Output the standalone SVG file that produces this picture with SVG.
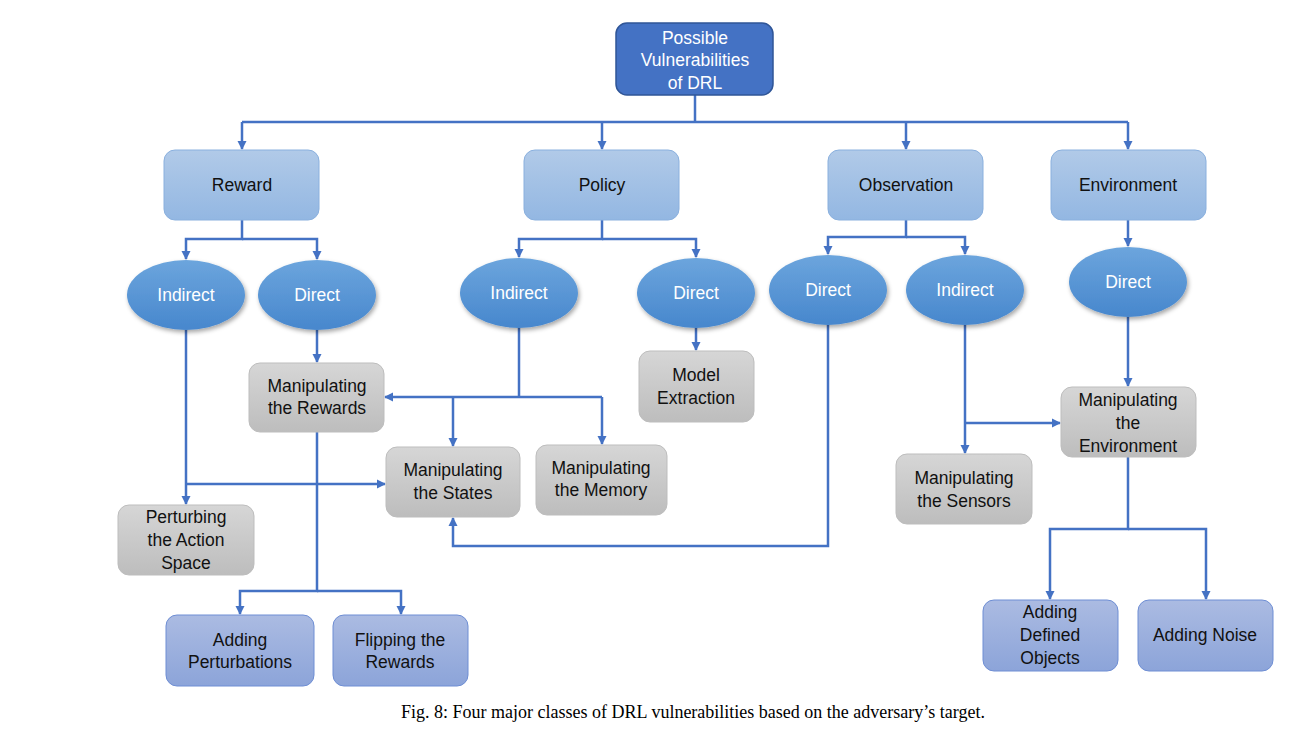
<svg xmlns="http://www.w3.org/2000/svg" width="1315" height="736" viewBox="0 0 1315 736">
<style>
text{font-family:"Liberation Sans",Arial,sans-serif;font-size:17.5px;text-anchor:middle;dominant-baseline:central}
.dark{fill:#111}
.white{fill:#fff}
.l1{fill:url(#gL1);stroke:#8AB0DE;stroke-width:1}
.gray{fill:url(#gGray);stroke:#BDBDBD;stroke-width:1}
.leaf{fill:url(#gLeaf);stroke:#6E8ED4;stroke-width:1}
.ell{fill:url(#gEll);filter:url(#sh)}
.conn{fill:none;stroke:#4472C4;stroke-width:2.5}
.cap{font-family:"Liberation Serif","Times New Roman",serif;font-size:18px;fill:#000}
</style>
<defs>
<linearGradient id="gL1" x1="0" y1="0" x2="0" y2="1"><stop offset="0" stop-color="#B1CAE8"/><stop offset="1" stop-color="#93B7E2"/></linearGradient>
<linearGradient id="gGray" x1="0" y1="0" x2="0" y2="1"><stop offset="0" stop-color="#D6D6D6"/><stop offset="1" stop-color="#BDBDBD"/></linearGradient>
<linearGradient id="gLeaf" x1="0" y1="0" x2="0" y2="1"><stop offset="0" stop-color="#ABBBE2"/><stop offset="1" stop-color="#8CA4D9"/></linearGradient>
<linearGradient id="gEll" x1="0" y1="0" x2="0" y2="1"><stop offset="0" stop-color="#6CA5DD"/><stop offset="1" stop-color="#4787CD"/></linearGradient>
<filter id="sh" x="-20%" y="-20%" width="150%" height="150%"><feDropShadow dx="1.5" dy="2.5" stdDeviation="2" flood-color="#000" flood-opacity="0.35"/></filter>
<marker id="ah" markerWidth="10" markerHeight="10" refX="8" refY="5" orient="auto" markerUnits="userSpaceOnUse"><path d="M0,0.5 L9,5 L0,9.5 Z" fill="#4472C4"/></marker>
</defs>

<g id="connectors">
<path class="conn" d="M695,95 V122"/>
<path class="conn" d="M242,122 H1128"/>
<path class="conn" d="M242,122 V149" marker-end="url(#ah)"/>
<path class="conn" d="M602,122 V149" marker-end="url(#ah)"/>
<path class="conn" d="M906,122 V149" marker-end="url(#ah)"/>
<path class="conn" d="M1128,122 V149" marker-end="url(#ah)"/>
<path class="conn" d="M242,220 V239 H186 V259" marker-end="url(#ah)"/>
<path class="conn" d="M242,239 H317 V259" marker-end="url(#ah)"/>
<path class="conn" d="M602,220 V239 H519 V257" marker-end="url(#ah)"/>
<path class="conn" d="M602,239 H696 V257" marker-end="url(#ah)"/>
<path class="conn" d="M906,220 V237 H828 V254" marker-end="url(#ah)"/>
<path class="conn" d="M906,237 H965 V254" marker-end="url(#ah)"/>
<path class="conn" d="M1128,220 V246" marker-end="url(#ah)"/>
<path class="conn" d="M186,330 V504" marker-end="url(#ah)"/>
<path class="conn" d="M186,484 H385" marker-end="url(#ah)"/>
<path class="conn" d="M317,330 V362" marker-end="url(#ah)"/>
<path class="conn" d="M519,328 V397"/>
<path class="conn" d="M602,397 H385" marker-end="url(#ah)"/>
<path class="conn" d="M453,397 V446" marker-end="url(#ah)"/>
<path class="conn" d="M602,397 V444" marker-end="url(#ah)"/>
<path class="conn" d="M696,328 V350" marker-end="url(#ah)"/>
<path class="conn" d="M317,432 V591 H240 V614" marker-end="url(#ah)"/>
<path class="conn" d="M317,591 H401 V614" marker-end="url(#ah)"/>
<path class="conn" d="M828,325 V546 H453 V518" marker-end="url(#ah)"/>
<path class="conn" d="M965,325 V453" marker-end="url(#ah)"/>
<path class="conn" d="M965,423 H1060" marker-end="url(#ah)"/>
<path class="conn" d="M1128,317 V386" marker-end="url(#ah)"/>
<path class="conn" d="M1128,457 V529 H1050 V599" marker-end="url(#ah)"/>
<path class="conn" d="M1128,529 H1206 V599" marker-end="url(#ah)"/>
</g>

<g id="root">
<rect x="616" y="23" width="157" height="72" rx="11" fill="#4472C4" stroke="#2F5597" stroke-width="1.5"/>
<text class="white" x="695" y="38">Possible</text>
<text class="white" x="695" y="60">Vulnerabilities</text>
<text class="white" x="695" y="83">of DRL</text>
</g>

<g id="reward"><rect class="l1" x="164" y="150" width="155" height="70" rx="11"/><text class="dark" x="242" y="185">Reward</text></g>
<g id="policy"><rect class="l1" x="524" y="150" width="155" height="70" rx="11"/><text class="dark" x="602" y="185">Policy</text></g>
<g id="observation"><rect class="l1" x="828" y="150" width="155" height="70" rx="11"/><text class="dark" x="906" y="185">Observation</text></g>
<g id="environment"><rect class="l1" x="1051" y="150" width="155" height="70" rx="11"/><text class="dark" x="1128" y="185">Environment</text></g>

<g id="reward-indirect"><ellipse class="ell" cx="186" cy="295" rx="59" ry="35"/><text class="white" x="186" y="295">Indirect</text></g>
<g id="reward-direct"><ellipse class="ell" cx="317" cy="295" rx="59" ry="35"/><text class="white" x="317" y="295">Direct</text></g>
<g id="policy-indirect"><ellipse class="ell" cx="519" cy="293" rx="59" ry="35"/><text class="white" x="519" y="293">Indirect</text></g>
<g id="policy-direct"><ellipse class="ell" cx="696" cy="293" rx="59" ry="35"/><text class="white" x="696" y="293">Direct</text></g>
<g id="observation-direct"><ellipse class="ell" cx="828" cy="290" rx="59" ry="35"/><text class="white" x="828" y="290">Direct</text></g>
<g id="observation-indirect"><ellipse class="ell" cx="965" cy="290" rx="59" ry="35"/><text class="white" x="965" y="290">Indirect</text></g>
<g id="environment-direct"><ellipse class="ell" cx="1128" cy="282" rx="59" ry="35"/><text class="white" x="1128" y="282">Direct</text></g>

<g id="manip-rewards"><rect class="gray" x="249" y="363" width="135" height="69" rx="11"/><text class="dark" x="317" y="386">Manipulating</text><text class="dark" x="317" y="408">the Rewards</text></g>
<g id="model-extraction"><rect class="gray" x="639" y="351" width="115" height="71" rx="11"/><text class="dark" x="696" y="375">Model</text><text class="dark" x="696" y="398">Extraction</text></g>
<g id="manip-states"><rect class="gray" x="386" y="447" width="134" height="70" rx="11"/><text class="dark" x="453" y="470">Manipulating</text><text class="dark" x="453" y="493">the States</text></g>
<g id="manip-memory"><rect class="gray" x="536" y="445" width="131" height="70" rx="11"/><text class="dark" x="601" y="468">Manipulating</text><text class="dark" x="601" y="490">the Memory</text></g>
<g id="perturb-action"><rect class="gray" x="118" y="505" width="136" height="70" rx="11"/><text class="dark" x="186" y="517">Perturbing</text><text class="dark" x="186" y="540">the Action</text><text class="dark" x="186" y="563">Space</text></g>
<g id="manip-sensors"><rect class="gray" x="896" y="454" width="136" height="70" rx="11"/><text class="dark" x="964" y="478">Manipulating</text><text class="dark" x="964" y="501">the Sensors</text></g>
<g id="manip-environment"><rect class="gray" x="1061" y="387" width="135" height="70" rx="11"/><text class="dark" x="1128" y="400">Manipulating</text><text class="dark" x="1128" y="423">the</text><text class="dark" x="1128" y="446">Environment</text></g>

<g id="adding-perturbations"><rect class="leaf" x="166" y="615" width="148" height="71" rx="11"/><text class="dark" x="240" y="640">Adding</text><text class="dark" x="240" y="662">Perturbations</text></g>
<g id="flipping-rewards"><rect class="leaf" x="333" y="615" width="135" height="71" rx="11"/><text class="dark" x="400" y="640">Flipping the</text><text class="dark" x="400" y="662">Rewards</text></g>
<g id="adding-defined-objects"><rect class="leaf" x="983" y="600" width="135" height="71" rx="11"/><text class="dark" x="1050" y="612">Adding</text><text class="dark" x="1050" y="635">Defined</text><text class="dark" x="1050" y="658">Objects</text></g>
<g id="adding-noise"><rect class="leaf" x="1138" y="600" width="135" height="71" rx="11"/><text class="dark" x="1205" y="635">Adding Noise</text></g>

<text class="cap" x="693" y="712">Fig. 8: Four major classes of DRL vulnerabilities based on the adversary’s target.</text>
</svg>
